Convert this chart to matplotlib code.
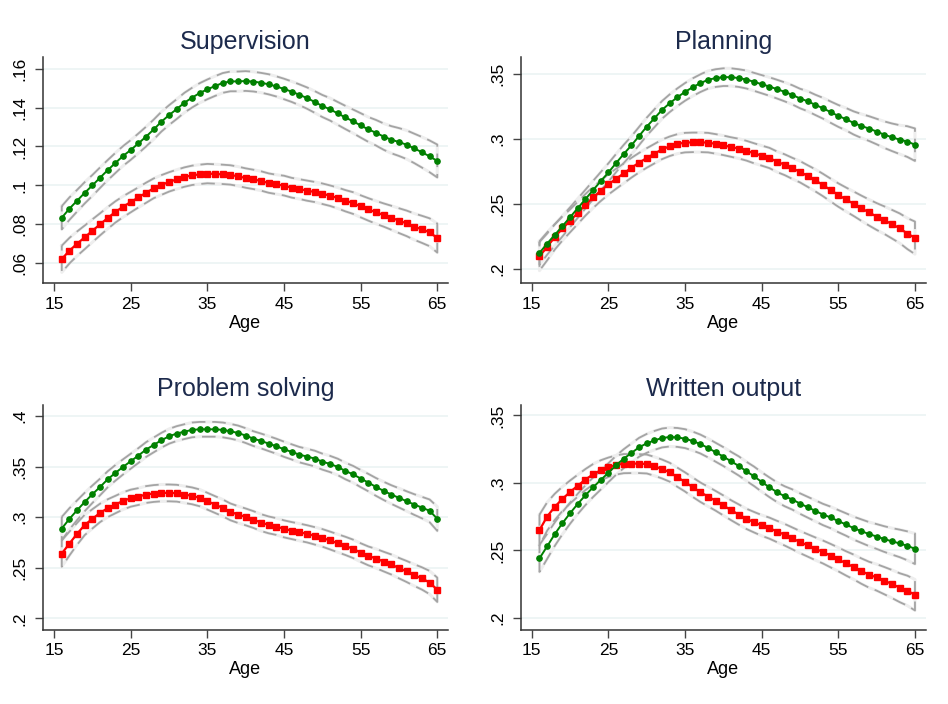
import matplotlib
matplotlib.use("Agg")
import matplotlib.pyplot as plt
import numpy as np

plt.rcParams['font.family'] = ['Liberation Sans', 'DejaVu Sans']

ages = list(range(16, 66))

titles = ["Supervision", "Planning", "Problem solving", "Written output"]

# ---- Supervision ----
sup_green = [.0832,.0879,.0920,.0961,.0999,.1039,.1078,.1115,.1151,.1182,.1216,.1251,.1288,.1328,.1362,.1393,.1426,.1452,.1476,.1495,
             .1512,.1528,.1536,.1536,.1538,.1535,.1529,.1521,.1510,.1497,.1483,.1467,.1450,.1430,.1409,.1392,.1371,.1350,.1330,.1309,
             .1288,.1271,.1251,.1235,.1223,.1209,.1190,.1170,.1149,.1125]
sup_red = [.0619,.0662,.0698,.0731,.0765,.0798,.0831,.0862,.0889,.0913,.0937,.0961,.0984,.1001,.1017,.1030,.1042,.1051,.1056,.1060,
           .1058,.1056,.1053,.1046,.1037,.1030,.1022,.1011,.1004,.0998,.0987,.0980,.0972,.0965,.0956,.0946,.0934,.0920,.0908,.0891,
           .0875,.0860,.0846,.0832,.0817,.0803,.0786,.0772,.0757,.0727]
sup_green_hw = [.0060,.0058,.0056,.0055,.0054,.0053,.0052,.0052,.0051,.0051,.0051,.0051,.0051,.0051,.0051,.0051,.0051,.0051,.0051,.0051,
                .0051,.0051,.0051,.0051,.0051,.0051,.0051,.0052,.0052,.0053,.0053,.0054,.0055,.0056,.0057,.0058,.0059,.0060,.0061,.0063,
                .0064,.0066,.0068,.0070,.0072,.0074,.0076,.0079,.0082,.0085]
sup_red_hw = [.0069,.0066,.0063,.0061,.0059,.0057,.0056,.0055,.0054,.0053,.0052,.0052,.0051,.0051,.0050,.0050,.0050,.0050,.0050,.0050,
              .0050,.0050,.0050,.0050,.0050,.0050,.0050,.0050,.0050,.0051,.0051,.0051,.0052,.0052,.0053,.0053,.0054,.0055,.0056,.0057,
              .0058,.0059,.0060,.0062,.0064,.0066,.0068,.0070,.0072,.0075]

# ---- Planning ----
plan_green = [.2123,.2195,.2262,.2329,.2398,.2467,.2537,.2606,.2675,.2742,.2814,.2884,.2950,.3022,.3094,.3158,.3223,.3274,.3320,.3361,
              .3397,.3428,.3454,.3467,.3474,.3474,.3467,.3456,.3438,.3420,.3402,.3382,.3361,.3338,.3310,.3289,.3261,.3235,.3205,.3176,
              .3151,.3122,.3099,.3079,.3056,.3032,.3012,.2994,.2979,.2955]
plan_red = [.2097,.2169,.2246,.2311,.2370,.2431,.2493,.2550,.2601,.2650,.2693,.2735,.2778,.2817,.2853,.2886,.2919,.2943,.2961,.2971,
            .2973,.2973,.2971,.2961,.2950,.2937,.2925,.2909,.2889,.2871,.2853,.2824,.2801,.2773,.2747,.2714,.2681,.2645,.2606,.2568,
            .2534,.2501,.2467,.2434,.2403,.2375,.2344,.2313,.2272,.2239]
plan_green_hw = [.0090,.0086,.0082,.0079,.0076,.0074,.0072,.0071,.0070,.0070,.0070,.0070,.0070,.0070,.0069,.0069,.0068,.0068,.0068,.0068,
                 .0068,.0068,.0068,.0068,.0068,.0068,.0068,.0069,.0069,.0070,.0071,.0072,.0073,.0074,.0075,.0077,.0078,.0080,.0082,.0084,
                 .0086,.0089,.0092,.0095,.0098,.0102,.0106,.0111,.0118,.0125]
plan_red_hw = [.0110,.0103,.0097,.0092,.0088,.0085,.0083,.0081,.0079,.0078,.0077,.0076,.0076,.0075,.0075,.0075,.0075,.0075,.0075,.0075,
               .0075,.0075,.0075,.0075,.0075,.0075,.0076,.0076,.0077,.0077,.0078,.0079,.0080,.0081,.0082,.0083,.0085,.0086,.0088,.0090,
               .0092,.0094,.0097,.0100,.0103,.0106,.0110,.0114,.0119,.0125]

# ---- Problem solving ----
prob_green = [.2888,.2984,.3069,.3151,.3227,.3299,.3375,.3438,.3497,.3553,.3609,.3668,.3714,.3760,.3799,.3826,.3845,.3862,.3868,.3868,
              .3868,.3862,.3849,.3832,.3806,.3776,.3753,.3727,.3701,.3671,.3645,.3618,.3599,.3579,.3549,.3526,.3497,.3457,.3424,.3382,
              .3342,.3299,.3260,.3224,.3191,.3158,.3125,.3095,.3063,.2985]
prob_red = [.2641,.2740,.2836,.2924,.2984,.3043,.3089,.3125,.3161,.3188,.3204,.3224,.3234,.3240,.3240,.3237,.3224,.3211,.3191,.3158,
            .3125,.3092,.3053,.3026,.3003,.2977,.2947,.2924,.2908,.2885,.2868,.2852,.2836,.2816,.2796,.2770,.2743,.2717,.2688,.2651,
            .2618,.2592,.2562,.2533,.2497,.2464,.2428,.2395,.2355,.2283]
prob_green_hw = [.0115,.0105,.0097,.0091,.0086,.0082,.0079,.0077,.0075,.0074,.0073,.0073,.0073,.0073,.0073,.0073,.0073,.0073,.0073,.0073,
                 .0073,.0073,.0073,.0073,.0073,.0073,.0073,.0074,.0074,.0075,.0075,.0076,.0077,.0078,.0079,.0080,.0081,.0082,.0083,.0085,
                 .0086,.0088,.0090,.0092,.0095,.0098,.0102,.0106,.0112,.0120]
prob_red_hw = [.0130,.0118,.0108,.0100,.0095,.0091,.0088,.0086,.0085,.0084,.0083,.0083,.0083,.0083,.0083,.0083,.0083,.0083,.0083,.0083,
               .0083,.0083,.0083,.0083,.0083,.0083,.0083,.0083,.0083,.0084,.0084,.0085,.0085,.0086,.0087,.0088,.0089,.0090,.0091,.0092,
               .0093,.0095,.0097,.0099,.0101,.0104,.0107,.0110,.0115,.0120]

# ---- Written output ----
writ_green = [.2441,.2530,.2621,.2702,.2776,.2845,.2909,.2968,.3022,.3076,.3131,.3180,.3222,.3264,.3293,.3315,.3333,.3340,.3337,.3328,
              .3310,.3288,.3259,.3227,.3195,.3160,.3126,.3086,.3049,.3007,.2968,.2931,.2901,.2877,.2847,.2820,.2793,.2766,.2744,.2717,
              .2692,.2665,.2643,.2621,.2603,.2584,.2567,.2552,.2534,.2512]
writ_red = [.2650,.2751,.2823,.2882,.2933,.2980,.3025,.3064,.3094,.3116,.3133,.3143,.3143,.3143,.3140,.3123,.3103,.3079,.3042,.3007,
            .2968,.2931,.2899,.2867,.2833,.2798,.2766,.2734,.2709,.2685,.2665,.2640,.2616,.2589,.2562,.2537,.2512,.2488,.2461,.2433,
            .2404,.2377,.2347,.2320,.2300,.2276,.2251,.2224,.2202,.2170]
writ_green_hw = [.0100,.0093,.0087,.0082,.0078,.0075,.0073,.0072,.0071,.0070,.0070,.0070,.0070,.0070,.0070,.0070,.0070,.0070,.0070,.0070,
                 .0070,.0070,.0070,.0070,.0070,.0070,.0071,.0071,.0072,.0072,.0073,.0073,.0074,.0075,.0076,.0077,.0078,.0079,.0080,.0082,
                 .0083,.0085,.0087,.0089,.0092,.0095,.0098,.0102,.0107,.0113]
writ_red_hw = [.0115,.0105,.0097,.0090,.0085,.0081,.0078,.0076,.0074,.0072,.0071,.0071,.0070,.0070,.0070,.0070,.0070,.0070,.0071,.0071,
               .0072,.0072,.0073,.0073,.0074,.0074,.0075,.0075,.0076,.0077,.0078,.0079,.0080,.0081,.0082,.0083,.0084,.0085,.0087,.0088,
               .0090,.0092,.0094,.0096,.0098,.0101,.0104,.0107,.0111,.0115]

xticks = [15, 25, 35, 45, 55, 65]
yticks_list = [[.06, .08, .1, .12, .14, .16],
               [.2, .25, .3, .35],
               [.2, .25, .3, .35, .4],
               [.2, .25, .3, .35]]
ylims = [(0.0495, 0.1662), (0.1892, 0.3629), (0.1891, 0.4113), (0.1914, 0.3581)]

panels = [
    (sup_green, sup_green_hw, sup_red, sup_red_hw),
    (plan_green, plan_green_hw, plan_red, plan_red_hw),
    (prob_green, prob_green_hw, prob_red, prob_red_hw),
    (writ_green, writ_green_hw, writ_red, writ_red_hw),
]

positions = [
    (43/948, 1-283/704, 405/948, 226/704),
    (520.7/948, 1-283/704, 405/948, 226/704),
    (43/948, 1-629.5/704, 405/948, 225/704),
    (520.7/948, 1-629.5/704, 405/948, 225/704),
]

GREEN = '#008000'
RED = '#ff0000'
TITLE_C = '#1c2a4c'


def fmt(v):
    s = ('%g' % v)
    if s.startswith('0.'):
        s = s[1:]
    return s


def band(ax, x, y, hw):
    x = np.asarray(x, float)
    y = np.asarray(y, float)
    hw = np.asarray(hw, float)
    lo = y - hw
    hi = y + hw
    px = np.concatenate([x, x[::-1], x[:1]])
    py = np.concatenate([hi, lo[::-1], hi[:1]])
    ax.plot(px, py, color='#eeeeee', lw=2.2, solid_joinstyle='round', zorder=2)
    ax.plot(px, py, color='#a4a4a4', lw=1.3, ls=(0, (7.5, 3.8)), zorder=3)


fig = plt.figure(figsize=(9.48, 7.04), dpi=100)
fig.patch.set_facecolor('white')

for i, (g, ghw, r, rhw) in enumerate(panels):
    ax = fig.add_axes(positions[i])
    ax.set_facecolor('white')
    ax.set_xlim(13.55, 66.4)
    ax.set_ylim(*ylims[i])
    for yt in yticks_list[i]:
        ax.axhline(yt, color='#eaf2f3', lw=1.1, zorder=0)
    band(ax, ages, r, rhw)
    band(ax, ages, g, ghw)
    ax.plot(ages, r, color=RED, lw=1.6, marker='s', ms=4.3, mec=RED, mfc=RED, zorder=5)
    ax.plot(ages, g, color=GREEN, lw=1.4, marker='o', ms=3.8, mec=GREEN, mfc=GREEN, zorder=6)
    ax.set_xticks(xticks)
    ax.set_xticklabels([str(t) for t in xticks], fontsize=12.5)
    ax.set_yticks(yticks_list[i])
    ax.set_yticklabels([fmt(t) for t in yticks_list[i]], fontsize=12.5, rotation=90, va='center')
    ax.tick_params(direction='out', length=6, width=1, color='#444444', pad=4)
    ax.tick_params(axis='y', pad=5)
    for s in ['top', 'right']:
        ax.spines[s].set_visible(False)
    for s in ['left', 'bottom']:
        ax.spines[s].set_color('#333333')
        ax.spines[s].set_linewidth(1.1)
    ax.set_xlabel('Age', fontsize=13, labelpad=2)
    ax.set_title(titles[i], fontsize=18, color=TITLE_C, pad=6)

fig.savefig('out.png', dpi=100, facecolor='white')
